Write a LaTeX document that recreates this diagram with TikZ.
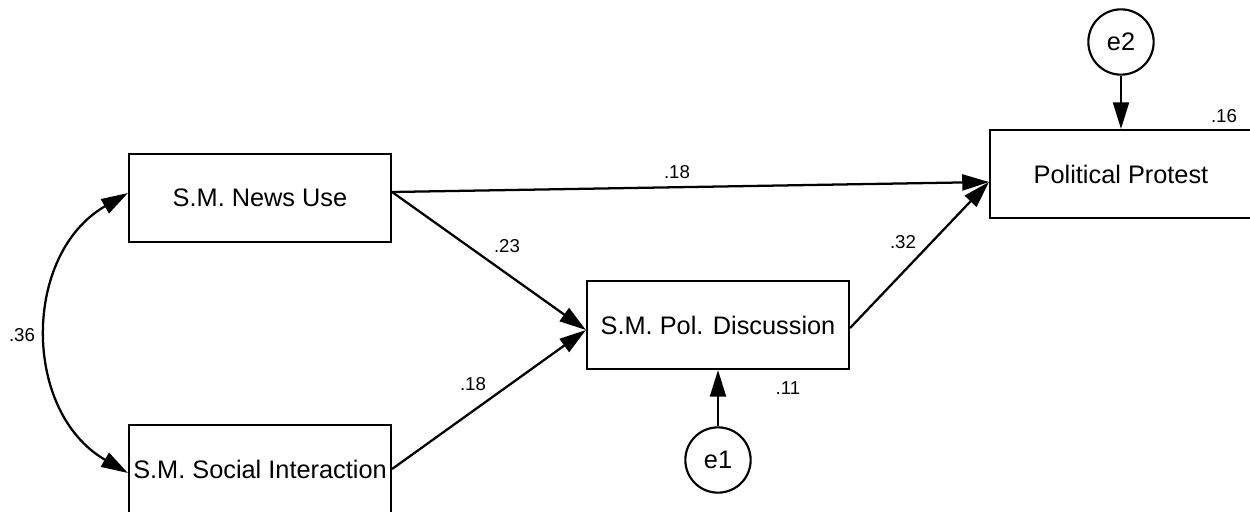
\documentclass[tikz,border=0pt]{standalone}
\usepackage{fontspec}
\setmainfont{Liberation Sans}
\usetikzlibrary{arrows.meta}
\begin{document}
\begin{tikzpicture}[x=0.75pt,y=-0.75pt,
  varbox/.style={draw,line width=1.6pt,minimum width=196.5pt,minimum height=66pt,inner sep=0pt,font=\fontsize{19}{21}\selectfont},
  errc/.style={draw,circle,line width=1.6pt,minimum size=49pt,inner sep=0pt,font=\fontsize{19}{21}\selectfont},
  path/.style={line width=1.7pt,-{Triangle[length=20pt,width=12pt]}},
  corr/.style={line width=1.7pt,{Triangle[length=20pt,width=12pt]}-{Triangle[length=20pt,width=12pt]}},
  lab/.style={font=\fontsize{14}{16}\selectfont,inner sep=0pt}]
\useasboundingbox (0,0) rectangle (1250,511);
\node[varbox] (news) at (260,198) {S.M. News Use};
\node[varbox] (social) at (260,469) {S.M. Social Interaction};
\node[varbox] (disc) at (718,325) {S.M. Pol. Discussion};
\node[varbox] (prot) at (1121,174) {Political Protest};
\node[errc] (e1) at (718,460) {e1};
\node[errc] (e2) at (1121,42) {e2};
\draw[path] ([yshift=4.5pt]news.east) -- ([yshift=-6pt]prot.west);
\draw[path] ([yshift=4.5pt]news.east) -- ([yshift=-3.75pt]disc.west);
\draw[path] (social.east) -- ([yshift=-3.75pt]disc.west);
\draw[path] ([yshift=-2.25pt]disc.east) -- ([yshift=-6pt]prot.west);
\draw[path] (e1) -- (disc.south);
\draw[path] (e2) -- (prot.north);
\draw[corr] ([yshift=3.75pt]news.west) to[out=210,in=150,looseness=1.12] ([yshift=-3pt]social.west);
\node[lab] (l36) at (22,335) {.36};
\node[lab] (l18a) at (677,172) {.18};
\node[lab] (l23) at (507,246) {.23};
\node[lab] (l18b) at (473,384) {.18};
\node[lab] (l32) at (903,242) {.32};
\node[lab] (l11) at (788,388) {.11};
\node[lab] (l16) at (1224,116) {.16};
\end{tikzpicture}
\end{document}
